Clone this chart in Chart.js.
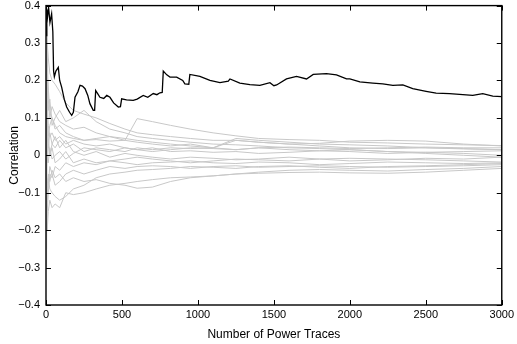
<!DOCTYPE html>
<html>
<head>
<meta charset="utf-8">
<script src="https://cdn.jsdelivr.net/npm/chart.js@4/dist/chart.umd.min.js"></script>
<style>
  html, body { margin: 0; padding: 0; background: #fff; overflow: hidden; }
  #wrap { width: 517px; height: 344px; overflow: hidden; }
  #corrChart { display: block; margin-top: -7px; }
</style>
</head>
<body>
<div id="wrap"><canvas id="corrChart" width="517" height="351"></canvas></div>
<script>
// tick labels
const xTicks = [0, 500, 1000, 1500, 2000, 2500, 3000];
const yTicks = [-0.4, -0.3, -0.2, -0.1, 0, 0.1, 0.2, 0.3, 0.4];

// correct key guess
const keyTraces = [1, 5, 10, 17, 26, 37, 45, 50, 55, 65, 81, 90, 103, 120, 136, 155, 169, 180, 191, 210,
  224, 240, 257, 275, 289, 311, 320, 327, 340, 355, 380, 400, 421, 445, 476, 490, 498, 530, 574, 600,
  640, 670, 706, 730, 750, 765, 772, 795, 816, 860, 900, 914, 940, 947, 1013, 1079, 1145, 1200, 1211, 1276,
  1342, 1408, 1474, 1500, 1518, 1583, 1649, 1715, 1759, 1846, 1912, 1978, 2000, 2066, 2151, 2217, 2283, 2349, 2414, 2502,
  2568, 2656, 2744, 2809, 2875, 2941, 3000];
const keyCorr = [0.32, 0.39, 0.37, 0.395, 0.355, 0.378, 0.33, 0.225, 0.21, 0.225, 0.235, 0.2, 0.182, 0.15, 0.129, 0.115, 0.107, 0.115, 0.155, 0.17,
  0.187, 0.185, 0.178, 0.16, 0.138, 0.12, 0.12, 0.173, 0.165, 0.155, 0.152, 0.16, 0.155, 0.14, 0.129, 0.13, 0.151, 0.148, 0.147, 0.15,
  0.16, 0.155, 0.165, 0.162, 0.167, 0.168, 0.225, 0.215, 0.209, 0.209, 0.2, 0.191, 0.19, 0.216, 0.211, 0.2, 0.194, 0.198, 0.204, 0.193,
  0.189, 0.187, 0.194, 0.186, 0.188, 0.204, 0.211, 0.204, 0.216, 0.218, 0.215, 0.204, 0.204, 0.196, 0.193, 0.191, 0.187, 0.188, 0.178, 0.171,
  0.166, 0.165, 0.162, 0.16, 0.165, 0.158, 0.157];

// wrong key guesses
const wrongTraces = [1, 4, 8, 15, 25, 40, 60, 90, 130, 180, 250, 330, 420, 520, 600, 700, 820, 950, 1100, 1250, 1400, 1600, 1800, 2000, 2250, 2500, 2750, 3000];
const wrong1 = [0.38, 0.30, 0.22, 0.18, 0.12, 0.10, 0.08, 0.06, 0.05, 0.045, 0.04, 0.042, 0.038, 0.04, 0.098, 0.09, 0.08, 0.07, 0.06, 0.052, 0.045, 0.042, 0.04, 0.035, 0.033, 0.03, 0.028, 0.026];
const wrong2 = [0.40, 0.36, 0.30, 0.26, 0.22, 0.20, 0.19, 0.17, 0.14, 0.12, 0.11, 0.10, 0.085, 0.07, 0.06, 0.055, 0.05, 0.045, 0.04, 0.04, 0.035, 0.03, 0.032, 0.038, 0.04, 0.038, 0.03, 0.025];
const wrong3 = [0.25, 0.34, 0.28, 0.15, 0.10, 0.13, 0.11, 0.09, 0.08, 0.07, 0.075, 0.06, 0.05, 0.045, 0.04, 0.035, 0.03, 0.025, 0.02, 0.04, 0.035, 0.03, 0.025, 0.02, 0.018, 0.02, 0.017, 0.015];
const wrong4 = [0.1, 0.2, 0.15, 0.08, 0.05, 0.06, 0.04, 0.05, 0.03, 0.04, 0.03, 0.025, 0.03, 0.02, 0.015, 0.02, 0.01, 0.012, 0.008, 0.01, 0.005, 0.008, 0.012, 0.01, 0.005, 0.008, 0.01, 0.012];
const wrong5 = [-0.05, 0.15, 0.05, 0.02, 0.06, 0.03, 0.05, 0.02, 0.04, 0.01, 0.0, 0.01, -0.005, 0.005, 0.0, -0.005, -0.01, -0.005, -0.008, -0.012, -0.01, -0.005, -0.01, -0.015, -0.012, -0.008, -0.01, -0.005];
const wrong6 = [-0.3, -0.2, -0.15, -0.1, -0.05, -0.06, -0.03, -0.04, -0.02, -0.03, -0.02, -0.025, -0.015, -0.02, -0.025, -0.02, -0.018, -0.015, -0.02, -0.022, -0.018, -0.02, -0.025, -0.022, -0.018, -0.02, -0.022, -0.02];
const wrong7 = [-0.25, -0.18, -0.2, -0.15, -0.12, -0.14, -0.13, -0.14, -0.10, -0.105, -0.1, -0.09, -0.08, -0.075, -0.07, -0.065, -0.06, -0.058, -0.055, -0.05, -0.048, -0.046, -0.045, -0.047, -0.048, -0.045, -0.04, -0.035];
const wrong8 = [0.05, -0.1, -0.08, -0.05, -0.07, -0.04, -0.06, -0.05, -0.07, -0.06, -0.07, -0.065, -0.075, -0.08, -0.088, -0.085, -0.07, -0.06, -0.055, -0.05, -0.045, -0.04, -0.038, -0.04, -0.042, -0.038, -0.035, -0.03];
const wrong9 = [0.2, 0.1, 0.0, -0.02, 0.02, -0.01, 0.0, 0.01, -0.01, 0.005, 0.02, 0.015, 0.01, 0.02, 0.015, 0.01, 0.015, 0.02, 0.018, 0.015, 0.02, 0.022, 0.02, 0.018, 0.02, 0.022, 0.02, 0.02];
const wrong10 = [-0.15, -0.05, -0.1, -0.08, -0.03, -0.05, -0.08, -0.07, -0.05, -0.04, -0.05, -0.04, -0.03, -0.035, -0.03, -0.028, -0.03, -0.035, -0.03, -0.028, -0.032, -0.03, -0.028, -0.03, -0.032, -0.03, -0.028, -0.025];
const wrong11 = [0.3, 0.25, 0.1, 0.05, 0.08, 0.1, 0.07, 0.08, 0.06, 0.05, 0.04, 0.045, 0.05, 0.04, 0.035, 0.03, 0.025, 0.03, 0.02, 0.015, 0.02, 0.015, 0.012, 0.015, 0.01, 0.008, 0.005, 0.0];
const wrong12 = [0.0, -0.05, 0.1, 0.05, 0.0, 0.02, -0.02, -0.01, 0.01, -0.02, -0.01, -0.02, -0.015, -0.01, -0.005, -0.01, -0.015, -0.02, -0.015, -0.01, -0.012, -0.015, -0.01, -0.008, -0.01, -0.012, -0.015, -0.018];
const wrong13 = [-0.1, -0.2, -0.12, -0.06, -0.09, -0.1, -0.11, -0.12, -0.11, -0.09, -0.08, -0.06, -0.05, -0.045, -0.04, -0.038, -0.035, -0.03, -0.032, -0.035, -0.03, -0.028, -0.032, -0.035, -0.03, -0.028, -0.025, -0.022];
const wrong14 = [0.15, 0.05, -0.02, 0.03, 0.0, 0.03, 0.02, 0.04, 0.02, 0.03, 0.01, 0.02, 0.015, 0.01, 0.02, 0.015, 0.02, 0.018, 0.02, 0.045, 0.04, 0.035, 0.03, 0.028, 0.025, 0.02, 0.018, 0.015];
const wrong15 = [0.35, 0.12, 0.2, 0.12, 0.15, 0.08, 0.1, 0.12, 0.09, 0.1, 0.12, 0.09, 0.07, 0.06, 0.05, 0.045, 0.04, 0.035, 0.03, 0.028, 0.025, 0.02, 0.018, 0.015, 0.01, 0.005, 0.0, -0.005];
const wrongKeys = [wrong1, wrong2, wrong3, wrong4, wrong5, wrong6, wrong7, wrong8, wrong9, wrong10, wrong11, wrong12, wrong13, wrong14, wrong15];

const FONT = '"Liberation Sans", Arial, Helvetica, sans-serif';

function toPoints(xs, ys) {
    return xs.map((x, i) => ({ x: x, y: ys[i] }));
}

function fmtY(v) {
    const r = Math.round(v * 10) / 10;
    if (r === 0) return '0';
    return (r < 0 ? '\u2212' : '') + Math.abs(r).toFixed(1);
}

// box with inward ticks on all four sides (matlab style)
const boxPlugin = {
    id: 'boxTicks',
    afterDatasetsDraw(chart) {
        const { ctx, chartArea: a, scales } = chart;
        const len = 5;
        ctx.save();
        ctx.strokeStyle = '#000';
        ctx.lineWidth = 1;
        ctx.beginPath();
        xTicks.forEach(t => {
            const px = Math.round(scales.x.getPixelForValue(t)) + 0.5;
            ctx.moveTo(px, a.bottom); ctx.lineTo(px, a.bottom - len);
            ctx.moveTo(px, a.top); ctx.lineTo(px, a.top + len);
        });
        yTicks.forEach(t => {
            const py = Math.round(scales.y.getPixelForValue(t)) + 0.5;
            ctx.moveTo(a.left, py); ctx.lineTo(a.left + len, py);
            ctx.moveTo(a.right, py); ctx.lineTo(a.right - len, py);
        });
        ctx.stroke();
        ctx.lineWidth = 1.4;
        ctx.strokeRect(a.left, a.top, a.right - a.left, a.bottom - a.top);
        ctx.restore();
    }
};

const datasets = wrongKeys.map(vals => ({
    data: toPoints(wrongTraces, vals),
    borderColor: 'rgb(200,200,200)',
    borderWidth: 1,
    pointRadius: 0,
    tension: 0,
    order: 1
}));
datasets.push({
    data: toPoints(keyTraces, keyCorr),
    borderColor: '#000',
    borderWidth: 1.3,
    pointRadius: 0,
    tension: 0,
    order: 0
});

new Chart(document.getElementById('corrChart'), {
    type: 'line',
    data: { datasets: datasets },
    options: {
        responsive: false,
        animation: false,
        layout: { padding: { top: 0, right: 15, left: 7, bottom: 2 } },
        plugins: { legend: { display: false }, tooltip: { enabled: false } },
        scales: {
            x: {
                type: 'linear',
                min: 0, max: 3000,
                afterBuildTicks: s => { s.ticks = xTicks.map(v => ({ value: v })); },
                afterFit: s => { s.height = 37; },
                grid: { display: false, drawTicks: false },
                border: { display: false },
                ticks: { color: '#000', font: { family: FONT, size: 11 }, padding: 3, maxRotation: 0,
                         callback: v => String(v) },
                title: { display: true, text: 'Number of Power Traces', color: '#000',
                         font: { family: FONT, size: 12 }, padding: { top: 6, bottom: 0 } }
            },
            y: {
                type: 'linear',
                min: -0.4, max: 0.4,
                afterBuildTicks: s => { s.ticks = yTicks.map(v => ({ value: v })); },
                afterFit: s => { s.width = 39; },
                grid: { display: false, drawTicks: false },
                border: { display: false },
                ticks: { color: '#000', font: { family: FONT, size: 11 }, padding: 6, callback: v => fmtY(v) },
                title: { display: true, text: 'Correlation', color: '#000',
                         font: { family: FONT, size: 12 }, padding: { top: 0, bottom: 2 } }
            }
        }
    },
    plugins: [boxPlugin]
});
</script>
</body>
</html>
